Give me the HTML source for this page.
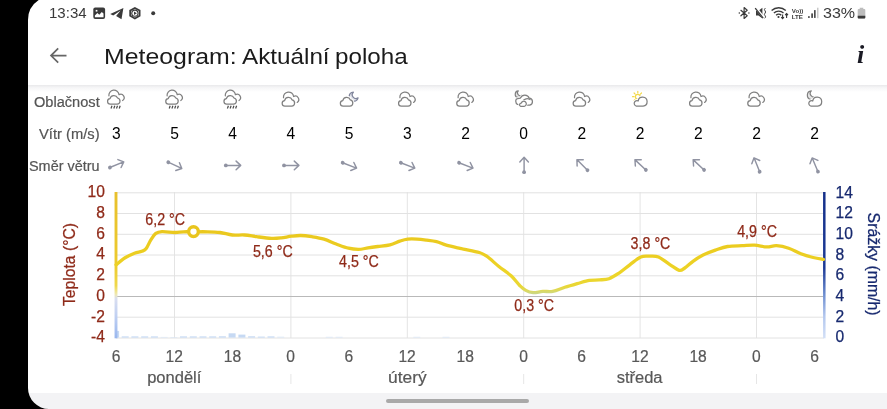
<!DOCTYPE html>
<html lang="cs"><head><meta charset="utf-8"><title>Meteogram: Aktuální poloha</title>
<style>
html,body{margin:0;padding:0}
body{width:887px;height:409px;overflow:hidden;background:#000;position:relative;font-family:"Liberation Sans",sans-serif;}
#screen{position:absolute;left:28px;top:0;width:859px;height:409px;background:#fff;overflow:hidden}
#navbar{position:absolute;left:0;top:393px;width:859px;height:16px;background:#f3f3f5}
#pill{position:absolute;left:358px;top:6.1px;width:143px;height:4px;border-radius:2px;background:#a9a9a9}
.t{position:absolute;white-space:nowrap;line-height:1;transform-origin:0 0}
#shadow{position:absolute;left:0;top:85px;width:859px;height:7px;background:linear-gradient(#e9e9eb,#f6f6f7 40%,#fff)}
svg{position:absolute;left:0;top:0;overflow:visible}
.tt{top:46.1px;font-size:22.6px;color:#1b1b1b}
.lab{color:#555;font-size:14px;-webkit-text-stroke:0.2px #555}
.wv{color:#000;font-size:15.6px;text-align:center;width:30px}
.tl{fill:#8f2a19;stroke:#8f2a19;stroke-width:0.25px;font-size:15.6px;font-family:"Liberation Sans",sans-serif}
.xl{fill:#585858;stroke:#585858;stroke-width:0.2px;font-size:15.6px;font-family:"Liberation Sans",sans-serif}
</style></head><body>
<div id="screen">
<div id="shadow"></div>
<div id="navbar"><div id="pill"></div></div>
</div>

<div class="t" style="left:49.3px;top:6.3px;font-size:14.2px;color:#3a3a3a;transform:scaleX(1.06)">13:34</div>
<div class="t" style="left:823.2px;top:5.9px;font-size:14.6px;color:#3a3a3a;transform:scaleX(1.10)">33%</div>
<div id="title"><span class="t tt" id="t1" style="left:104.2px;transform:scaleX(1.10)">Meteogram:</span><span class="t tt" id="t2" style="left:241.9px;transform:scaleX(1.073)">Aktuální</span><span class="t tt" id="t3" style="left:334.7px;transform:scaleX(1.071)">poloha</span></div>
<div class="t" id="info" style="left:857px;top:41.8px;font-size:26px;font-family:'Liberation Serif',serif;font-weight:bold;font-style:italic;color:#1a1a24">i</div>
<div class="t lab" id="l1" style="left:33.6px;top:95.1px;transform:scaleX(1.042)">Oblačnost</div>
<div class="t lab" id="l2" style="left:38.9px;top:127px;transform:scaleX(1.052)">Vítr (m/s)</div>
<div class="t lab" id="l3" style="left:28.9px;top:159px;transform:scaleX(1.03)">Směr větru</div>
<div class="t wv" style="left:101.3px;top:126.2px">3</div>
<div class="t wv" style="left:159.5px;top:126.2px">5</div>
<div class="t wv" style="left:217.7px;top:126.2px">4</div>
<div class="t wv" style="left:275.9px;top:126.2px">4</div>
<div class="t wv" style="left:334.1px;top:126.2px">5</div>
<div class="t wv" style="left:392.3px;top:126.2px">3</div>
<div class="t wv" style="left:450.5px;top:126.2px">2</div>
<div class="t wv" style="left:508.7px;top:126.2px">0</div>
<div class="t wv" style="left:566.9px;top:126.2px">2</div>
<div class="t wv" style="left:625.1px;top:126.2px">2</div>
<div class="t wv" style="left:683.3px;top:126.2px">2</div>
<div class="t wv" style="left:741.5px;top:126.2px">2</div>
<div class="t wv" style="left:799.7px;top:126.2px">2</div>
<svg width="887" height="409" viewBox="0 0 887 409">
<defs>
<linearGradient id="gT" gradientUnits="userSpaceOnUse" x1="0" y1="192" x2="0" y2="338">
<stop offset="0" stop-color="#e9c11c"/><stop offset="0.27" stop-color="#eac81e"/><stop offset="0.45" stop-color="#eccf22"/><stop offset="0.57" stop-color="#edd528"/><stop offset="0.645" stop-color="#e9d736"/><stop offset="0.675" stop-color="#dcd95e"/><stop offset="0.70" stop-color="#c8d88c"/><stop offset="0.72" stop-color="#b8d4b8"/><stop offset="0.75" stop-color="#b4d2e8"/><stop offset="1" stop-color="#9cc4ee"/></linearGradient>
<linearGradient id="gA" gradientUnits="userSpaceOnUse" x1="0" y1="192" x2="0" y2="338">
<stop offset="0" stop-color="#e8c02c"/><stop offset="0.5" stop-color="#ecca2e"/><stop offset="0.64" stop-color="#efd84a"/><stop offset="0.70" stop-color="#eee8b0"/><stop offset="0.73" stop-color="#d9def0"/><stop offset="0.85" stop-color="#c0d0f2"/><stop offset="1" stop-color="#98b6ee"/></linearGradient>
<linearGradient id="gP" gradientUnits="userSpaceOnUse" x1="0" y1="192" x2="0" y2="338">
<stop offset="0" stop-color="#15308a"/><stop offset="0.52" stop-color="#1d3a96"/><stop offset="0.7" stop-color="#6d8dd0"/><stop offset="0.85" stop-color="#b3c7ee"/><stop offset="1" stop-color="#d3e0f7"/></linearGradient>
<g id="cl" fill="#fff" stroke="#7d7d7d" stroke-width="1.15" stroke-linejoin="round" stroke-linecap="round">
<path d="M-5.3,5 a2.9,2.9 0 0 1 -0.4,-5.75 a4.3,4.3 0 0 1 8.2,-1.2 a3.5,3.5 0 0 1 2.7,6.95 z"/></g>
<g id="bcl" fill="#fff" stroke="#7d7d7d" stroke-width="1.15" stroke-linejoin="round" stroke-linecap="round">
<path d="M-5.3,5 a2.9,2.9 0 0 1 -0.4,-5.75 a4.3,4.3 0 0 1 8.2,-1.2 a3.5,3.5 0 0 1 2.7,6.95 z"/></g>
<g id="arrow" fill="none" stroke="#9093a2" stroke-width="1.45" stroke-linecap="round" stroke-linejoin="round">
<path d="M-7.4,0H7.4M3,-4.3L7.6,0L3,4.3"/><circle cx="-7.3" cy="0" r="1.9" fill="#9093a2" stroke="none"/></g>
</defs>
<line x1="174.5" y1="192" x2="174.5" y2="338" stroke="#e4e4e4" stroke-width="1"/>
<line x1="290.9" y1="192" x2="290.9" y2="338" stroke="#e4e4e4" stroke-width="1"/>
<line x1="407.3" y1="192" x2="407.3" y2="338" stroke="#e4e4e4" stroke-width="1"/>
<line x1="523.7" y1="192" x2="523.7" y2="338" stroke="#e4e4e4" stroke-width="1"/>
<line x1="640.1" y1="192" x2="640.1" y2="338" stroke="#e4e4e4" stroke-width="1"/>
<line x1="756.5" y1="192" x2="756.5" y2="338" stroke="#e4e4e4" stroke-width="1"/>
<line x1="116" y1="338.0" x2="824" y2="338.0" stroke="#e2e2e2" stroke-width="1"/>
<line x1="116" y1="317.2" x2="824" y2="317.2" stroke="#e2e2e2" stroke-width="1"/>
<line x1="116" y1="296.5" x2="824" y2="296.5" stroke="#b9b9b9" stroke-width="1"/>
<line x1="116" y1="275.8" x2="824" y2="275.8" stroke="#e2e2e2" stroke-width="1"/>
<line x1="116" y1="255.0" x2="824" y2="255.0" stroke="#e2e2e2" stroke-width="1"/>
<line x1="116" y1="234.3" x2="824" y2="234.3" stroke="#e2e2e2" stroke-width="1"/>
<line x1="116" y1="213.5" x2="824" y2="213.5" stroke="#e2e2e2" stroke-width="1"/>
<line x1="116" y1="192.8" x2="824" y2="192.8" stroke="#e2e2e2" stroke-width="1"/>
<rect x="115.8" y="330.9" width="3.3" height="6.7" fill="#c6d9f3"/>
<rect x="121.7" y="336.4" width="7" height="1.2" fill="#c6d9f3"/>
<rect x="131.4" y="336.4" width="7" height="1.2" fill="#c6d9f3"/>
<rect x="141.2" y="336.4" width="7" height="1.2" fill="#c6d9f3"/>
<rect x="150.9" y="336.4" width="7" height="1.2" fill="#c6d9f3"/>
<rect x="160.6" y="336.9" width="7" height="0.7" fill="#dbe6f6"/>
<rect x="170.3" y="337.0" width="7" height="0.6" fill="#dbe6f6"/>
<rect x="180.0" y="336.4" width="7" height="1.2" fill="#c6d9f3"/>
<rect x="189.8" y="336.4" width="7" height="1.2" fill="#c6d9f3"/>
<rect x="199.5" y="336.4" width="7" height="1.2" fill="#c6d9f3"/>
<rect x="209.2" y="336.4" width="7" height="1.2" fill="#c6d9f3"/>
<rect x="218.9" y="336.3" width="7" height="1.3" fill="#c6d9f3"/>
<rect x="228.6" y="333.3" width="7" height="4.3" fill="#c6d9f3"/>
<rect x="238.4" y="334.6" width="7" height="3.0" fill="#c6d9f3"/>
<rect x="248.1" y="336.3" width="7" height="1.3" fill="#c6d9f3"/>
<rect x="257.8" y="336.6" width="7" height="1.0" fill="#c6d9f3"/>
<rect x="267.5" y="336.4" width="7" height="1.2" fill="#c6d9f3"/>
<rect x="277.2" y="336.7" width="7" height="0.9" fill="#dbe6f6"/>
<rect x="325.8" y="336.8" width="7" height="0.8" fill="#dbe6f6"/>
<rect x="335.6" y="336.8" width="7" height="0.8" fill="#dbe6f6"/>
<rect x="413.3" y="336.8" width="7" height="0.8" fill="#dbe6f6"/>
<rect x="442.5" y="336.8" width="7" height="0.8" fill="#dbe6f6"/>
<line x1="116" y1="192" x2="116" y2="338.3" stroke="url(#gA)" stroke-width="2.9"/>
<line x1="824.3" y1="192" x2="824.3" y2="338.3" stroke="url(#gP)" stroke-width="2.5"/>
<path d="M116.1,264.8C117.5,263.7 121.6,259.9 124.7,258.0C127.8,256.1 131.7,254.3 134.5,253.2C137.3,252.1 139.9,252.1 141.8,251.3C143.8,250.5 144.7,250.6 146.2,248.6C147.7,246.6 149.4,242.1 151.0,239.6C152.6,237.1 154.0,234.7 155.8,233.4C157.6,232.1 158.8,231.8 162.0,231.6C165.2,231.4 171.2,232.5 174.8,232.5C178.4,232.5 180.3,231.9 183.4,231.8C186.5,231.7 189.1,231.8 193.2,231.8C197.3,231.8 203.3,231.7 207.8,231.8C212.3,231.9 215.9,232.0 220.0,232.5C224.1,233.0 228.2,234.6 232.3,235.0C236.4,235.4 240.4,234.7 244.5,235.0C248.6,235.3 252.2,236.1 256.7,236.7C261.2,237.3 267.3,238.2 271.4,238.4C275.5,238.6 277.8,238.3 281.2,237.9C284.6,237.5 288.2,236.6 291.5,236.2C294.8,235.8 297.4,235.4 300.8,235.5C304.2,235.6 307.9,236.1 311.8,236.7C315.7,237.3 319.9,237.9 324.0,239.1C328.1,240.3 332.1,242.5 336.2,244.0C340.3,245.5 344.8,247.3 348.5,248.2C352.2,249.1 355.1,249.4 358.3,249.4C361.6,249.4 364.8,248.4 368.0,247.9C371.2,247.4 374.1,247.0 377.8,246.5C381.5,246.0 386.3,245.7 390.0,244.8C393.7,243.9 396.9,242.1 399.8,241.1C402.8,240.1 404.8,239.4 407.7,239.1C410.6,238.8 413.8,238.9 417.0,239.1C420.2,239.3 423.4,239.7 426.7,240.1C429.9,240.5 433.2,240.8 436.5,241.6C439.8,242.4 442.4,244.1 446.3,245.2C450.2,246.3 456.9,247.7 460.0,248.4C463.1,249.1 461.5,248.6 464.7,249.3C467.9,250.0 475.6,251.3 479.3,252.5C483.0,253.7 483.4,253.9 486.7,256.2C490.0,258.5 494.8,263.2 498.9,266.5C503.0,269.8 507.6,272.6 511.1,275.8C514.6,279.0 517.2,283.1 519.7,285.5C522.2,287.9 523.5,289.2 525.8,290.4C528.0,291.6 530.4,292.4 533.2,292.6C536.1,292.8 539.6,291.6 542.9,291.4C546.1,291.2 549.0,292.1 552.7,291.4C556.4,290.7 560.8,288.6 564.9,287.3C569.0,286.0 573.1,284.8 577.2,283.6C581.3,282.5 585.7,281.0 589.4,280.4C593.1,279.8 595.9,280.2 599.2,279.9C602.5,279.6 605.8,279.8 609.0,278.7C612.2,277.6 615.2,275.6 618.7,273.3C622.2,271.0 626.1,267.5 629.8,264.8C633.5,262.1 637.5,258.4 640.8,257.0C644.0,255.6 646.3,256.2 649.3,256.2C652.2,256.2 655.1,255.7 658.5,257.0C661.9,258.4 666.0,262.1 669.5,264.3C673.0,266.5 676.7,269.7 679.2,270.3C681.8,270.9 682.4,269.5 684.8,268.0C687.1,266.5 690.2,263.3 693.3,261.1C696.3,258.9 699.4,256.8 703.1,255.0C706.8,253.2 711.3,251.5 715.4,250.1C719.5,248.7 723.1,247.2 727.6,246.5C732.1,245.8 737.7,245.9 742.2,245.7C746.7,245.5 750.4,245.0 754.5,245.2C758.6,245.4 763.0,246.8 766.7,246.9C770.4,247.0 772.8,245.5 776.5,245.7C780.2,245.9 784.6,246.8 788.7,248.2C792.8,249.5 796.8,252.2 800.9,253.8C805.0,255.4 809.5,256.6 813.2,257.5C817.0,258.4 821.7,259.1 823.4,259.4" fill="none" stroke="url(#gT)" stroke-width="3.3" stroke-linecap="round" stroke-linejoin="round"/>
<circle cx="193.5" cy="231.6" r="4.85" fill="#fff" stroke="#e9c51d" stroke-width="3.4"/>
<text class="tl" x="104.9" y="342.4" text-anchor="end">-4</text>
<text class="tl" x="104.9" y="321.6" text-anchor="end">-2</text>
<text class="tl" x="104.9" y="300.9" text-anchor="end">0</text>
<text class="tl" x="104.9" y="280.2" text-anchor="end">2</text>
<text class="tl" x="104.9" y="259.4" text-anchor="end">4</text>
<text class="tl" x="104.9" y="238.7" text-anchor="end">6</text>
<text class="tl" x="104.9" y="217.9" text-anchor="end">8</text>
<text class="tl" x="104.9" y="197.2" text-anchor="end">10</text>
<text x="835.6" y="342.4" font-size="15.6" font-family="Liberation Sans, sans-serif" fill="#17296f" stroke="#17296f" stroke-width="0.25">0</text>
<text x="835.6" y="321.7" font-size="15.6" font-family="Liberation Sans, sans-serif" fill="#17296f" stroke="#17296f" stroke-width="0.25">2</text>
<text x="835.6" y="301.0" font-size="15.6" font-family="Liberation Sans, sans-serif" fill="#17296f" stroke="#17296f" stroke-width="0.25">4</text>
<text x="835.6" y="280.2" font-size="15.6" font-family="Liberation Sans, sans-serif" fill="#17296f" stroke="#17296f" stroke-width="0.25">6</text>
<text x="835.6" y="259.6" font-size="15.6" font-family="Liberation Sans, sans-serif" fill="#17296f" stroke="#17296f" stroke-width="0.25">8</text>
<text x="835.6" y="238.9" font-size="15.6" font-family="Liberation Sans, sans-serif" fill="#17296f" stroke="#17296f" stroke-width="0.25">10</text>
<text x="835.6" y="218.2" font-size="15.6" font-family="Liberation Sans, sans-serif" fill="#17296f" stroke="#17296f" stroke-width="0.25">12</text>
<text x="835.6" y="197.5" font-size="15.6" font-family="Liberation Sans, sans-serif" fill="#17296f" stroke="#17296f" stroke-width="0.25">14</text>
<text class="xl" x="116.1" y="361.7" text-anchor="middle">6</text>
<text class="xl" x="174.3" y="361.7" text-anchor="middle">12</text>
<text class="xl" x="232.5" y="361.7" text-anchor="middle">18</text>
<text class="xl" x="290.7" y="361.7" text-anchor="middle">0</text>
<text class="xl" x="348.9" y="361.7" text-anchor="middle">6</text>
<text class="xl" x="407.1" y="361.7" text-anchor="middle">12</text>
<text class="xl" x="465.3" y="361.7" text-anchor="middle">18</text>
<text class="xl" x="523.5" y="361.7" text-anchor="middle">0</text>
<text class="xl" x="581.7" y="361.7" text-anchor="middle">6</text>
<text class="xl" x="639.9" y="361.7" text-anchor="middle">12</text>
<text class="xl" x="698.1" y="361.7" text-anchor="middle">18</text>
<text class="xl" x="756.3" y="361.7" text-anchor="middle">0</text>
<text class="xl" x="814.5" y="361.7" text-anchor="middle">6</text>
<text class="xl" x="147.2" y="383" style="font-size:16px" textLength="54.2" lengthAdjust="spacingAndGlyphs">pondělí</text>
<text class="xl" x="388.0" y="383" style="font-size:16px" textLength="38.6" lengthAdjust="spacingAndGlyphs">úterý</text>
<text class="xl" x="616.7" y="383" style="font-size:16px" textLength="45.8" lengthAdjust="spacingAndGlyphs">středa</text>
<line x1="290.9" y1="374" x2="290.9" y2="384" stroke="#e6e6e6" stroke-width="1"/>
<line x1="523.7" y1="374" x2="523.7" y2="384" stroke="#e6e6e6" stroke-width="1"/>
<line x1="756.5" y1="374" x2="756.5" y2="384" stroke="#e6e6e6" stroke-width="1"/>
<text class="tl" x="145.3" y="224.9" textLength="39.8" lengthAdjust="spacingAndGlyphs">6,2 °C</text>
<text class="tl" x="252.9" y="256.6" textLength="39.8" lengthAdjust="spacingAndGlyphs">5,6 °C</text>
<text class="tl" x="339.0" y="267.2" textLength="39.8" lengthAdjust="spacingAndGlyphs">4,5 °C</text>
<text class="tl" x="514.3" y="310.9" textLength="39.8" lengthAdjust="spacingAndGlyphs">0,3 °C</text>
<text class="tl" x="630.6" y="248.6" textLength="39.8" lengthAdjust="spacingAndGlyphs">3,8 °C</text>
<text class="tl" x="737.2" y="237.1" textLength="39.8" lengthAdjust="spacingAndGlyphs">4,9 °C</text>
<text transform="translate(75,306) rotate(-90)" font-size="15.8" font-family="Liberation Sans, sans-serif" fill="#8f2a19" stroke="#8f2a19" stroke-width="0.25" textLength="83" lengthAdjust="spacingAndGlyphs">Teplota (°C)</text>
<text transform="translate(868,212.6) rotate(90)" font-size="15.8" font-family="Liberation Sans, sans-serif" fill="#17296f" stroke="#17296f" stroke-width="0.25" textLength="103" lengthAdjust="spacingAndGlyphs">Srážky (mm/h)</text>
<use href="#arrow" transform="translate(116.7,164.7) rotate(-22)"/>
<use href="#arrow" transform="translate(174.9,165.3) rotate(25)"/>
<use href="#arrow" transform="translate(233.1,165.4) rotate(0)"/>
<use href="#arrow" transform="translate(291.3,165.4) rotate(0)"/>
<use href="#arrow" transform="translate(349.5,165.4) rotate(21)"/>
<use href="#arrow" transform="translate(407.7,165.4) rotate(21)"/>
<use href="#arrow" transform="translate(465.9,165.4) rotate(21)"/>
<use href="#arrow" transform="translate(524.1,164.9) rotate(-90)"/>
<use href="#arrow" transform="translate(582.3,165) rotate(-135)"/>
<use href="#arrow" transform="translate(640.5,164.9) rotate(-137)"/>
<use href="#arrow" transform="translate(698.7,164.9) rotate(-137)"/>
<use href="#arrow" transform="translate(756.9,164.9) rotate(-112)"/>
<use href="#arrow" transform="translate(815.1,164.9) rotate(-113)"/>
<path transform="translate(116.3,-1.9)" d="M-7.4,97.7A5.04,5.04 0 0 1 2.7,96.5A3.46,3.46 0 0 1 6.3,102.4" fill="none" stroke="#808080" stroke-width="1.25" stroke-linecap="round" stroke-linejoin="round" /><path transform="translate(116.3,-1.9)" d="M-6.05,106.1A2.76,2.76 0 0 1 -6.3,100.6A4,4 0 0 1 1.3,99.9A3.15,3.15 0 0 1 0.8,106.1Z" fill="none" stroke="#808080" stroke-width="1.25" stroke-linecap="round" stroke-linejoin="round" /><line x1="112.0" y1="105.7" x2="111.0" y2="108.5" stroke="#4a4a4a" stroke-width="1.2"/><line x1="114.8" y1="105.7" x2="113.8" y2="108.5" stroke="#4a4a4a" stroke-width="1.2"/><line x1="117.5" y1="105.7" x2="116.5" y2="108.5" stroke="#4a4a4a" stroke-width="1.2"/><line x1="120.2" y1="105.7" x2="119.2" y2="108.5" stroke="#4a4a4a" stroke-width="1.2"/>
<path transform="translate(174.5,-1.9)" d="M-7.4,97.7A5.04,5.04 0 0 1 2.7,96.5A3.46,3.46 0 0 1 6.3,102.4" fill="none" stroke="#808080" stroke-width="1.25" stroke-linecap="round" stroke-linejoin="round" /><path transform="translate(174.5,-1.9)" d="M-6.05,106.1A2.76,2.76 0 0 1 -6.3,100.6A4,4 0 0 1 1.3,99.9A3.15,3.15 0 0 1 0.8,106.1Z" fill="none" stroke="#808080" stroke-width="1.25" stroke-linecap="round" stroke-linejoin="round" /><line x1="170.2" y1="105.7" x2="169.2" y2="108.5" stroke="#4a4a4a" stroke-width="1.2"/><line x1="172.9" y1="105.7" x2="171.9" y2="108.5" stroke="#4a4a4a" stroke-width="1.2"/><line x1="175.7" y1="105.7" x2="174.7" y2="108.5" stroke="#4a4a4a" stroke-width="1.2"/><line x1="178.4" y1="105.7" x2="177.4" y2="108.5" stroke="#4a4a4a" stroke-width="1.2"/>
<path transform="translate(232.7,-1.9)" d="M-7.4,97.7A5.04,5.04 0 0 1 2.7,96.5A3.46,3.46 0 0 1 6.3,102.4" fill="none" stroke="#808080" stroke-width="1.25" stroke-linecap="round" stroke-linejoin="round" /><path transform="translate(232.7,-1.9)" d="M-6.05,106.1A2.76,2.76 0 0 1 -6.3,100.6A4,4 0 0 1 1.3,99.9A3.15,3.15 0 0 1 0.8,106.1Z" fill="none" stroke="#808080" stroke-width="1.25" stroke-linecap="round" stroke-linejoin="round" /><line x1="228.4" y1="105.7" x2="227.4" y2="108.5" stroke="#4a4a4a" stroke-width="1.2"/><line x1="231.1" y1="105.7" x2="230.1" y2="108.5" stroke="#4a4a4a" stroke-width="1.2"/><line x1="233.9" y1="105.7" x2="232.9" y2="108.5" stroke="#4a4a4a" stroke-width="1.2"/><line x1="236.6" y1="105.7" x2="235.6" y2="108.5" stroke="#4a4a4a" stroke-width="1.2"/>
<path transform="translate(290.9,0)" d="M-7.4,97.7A5.04,5.04 0 0 1 2.7,96.5A3.46,3.46 0 0 1 6.3,102.4" fill="none" stroke="#808080" stroke-width="1.25" stroke-linecap="round" stroke-linejoin="round" /><path transform="translate(290.9,0)" d="M-6.05,106.1A2.76,2.76 0 0 1 -6.3,100.6A4,4 0 0 1 1.3,99.9A3.15,3.15 0 0 1 0.8,106.1Z" fill="none" stroke="#808080" stroke-width="1.25" stroke-linecap="round" stroke-linejoin="round" />
<path transform="translate(349.1,0)" d="M8.94,97.89A4.5,4.5 0 1 1 4.25,92.21A3.7,3.7 0 0 0 8.94,97.89Z" fill="#e4e6ec" stroke="#80859c" stroke-width="1.3" stroke-linecap="round" stroke-linejoin="round" /><path transform="translate(349.1,0)" d="M-6.05,106.1A2.76,2.76 0 0 1 -6.3,100.6A4,4 0 0 1 1.3,99.9A3.15,3.15 0 0 1 0.8,106.1Z" fill="#fff" stroke="#fff" stroke-width="3.2" stroke-linecap="round" stroke-linejoin="round" /><path transform="translate(349.1,0)" d="M-6.05,106.1A2.76,2.76 0 0 1 -6.3,100.6A4,4 0 0 1 1.3,99.9A3.15,3.15 0 0 1 0.8,106.1Z" fill="none" stroke="#808080" stroke-width="1.25" stroke-linecap="round" stroke-linejoin="round" />
<path transform="translate(407.3,0)" d="M-7.4,97.7A5.04,5.04 0 0 1 2.7,96.5A3.46,3.46 0 0 1 6.3,102.4" fill="none" stroke="#808080" stroke-width="1.25" stroke-linecap="round" stroke-linejoin="round" /><path transform="translate(407.3,0)" d="M-6.05,106.1A2.76,2.76 0 0 1 -6.3,100.6A4,4 0 0 1 1.3,99.9A3.15,3.15 0 0 1 0.8,106.1Z" fill="none" stroke="#808080" stroke-width="1.25" stroke-linecap="round" stroke-linejoin="round" />
<path transform="translate(465.5,0)" d="M-7.4,97.7A5.04,5.04 0 0 1 2.7,96.5A3.46,3.46 0 0 1 6.3,102.4" fill="none" stroke="#808080" stroke-width="1.25" stroke-linecap="round" stroke-linejoin="round" /><path transform="translate(465.5,0)" d="M-6.05,106.1A2.76,2.76 0 0 1 -6.3,100.6A4,4 0 0 1 1.3,99.9A3.15,3.15 0 0 1 0.8,106.1Z" fill="none" stroke="#808080" stroke-width="1.25" stroke-linecap="round" stroke-linejoin="round" />
<path transform="translate(523.7,0)" d="M-1.83,95.22A3.4,3.4 0 1 1 -5.37,90.91A2.8,2.8 0 0 0 -1.83,95.22Z" fill="#e6e6e6" stroke="#808080" stroke-width="1.15" stroke-linecap="round" stroke-linejoin="round" /><path transform="translate(523.7,0)" d="M-6.2,104.3Q-7.9,103.6 -7.9,101.6V100.6Q-7.9,98.9 -6.2,98.7L-3.3,98.1A4.8,4.8 0 0 1 5.6,98.2A3.5,3.5 0 0 1 6,105.1H-2Z" fill="#fff" stroke="#fff" stroke-width="3" stroke-linecap="round" stroke-linejoin="round" /><path transform="translate(523.7,0)" d="M-6.2,104.3Q-7.9,103.6 -7.9,101.6V100.6Q-7.9,98.9 -6.2,98.7L-3.3,98.1A4.8,4.8 0 0 1 5.6,98.2A3.5,3.5 0 0 1 6,105.1H-2Z" fill="none" stroke="#808080" stroke-width="1.25" stroke-linecap="round" stroke-linejoin="round" /><path transform="translate(523.7,0)" d="M-0.2,100.3Q3,97.3 6.3,99.6" fill="none" stroke="#808080" stroke-width="1.25" stroke-linecap="round" stroke-linejoin="round" /><path transform="translate(523.7,0)" d="M-3.2,106.25A1.6,1.6 0 0 1 -2.4,103.2A2.55,2.55 0 1 1 0.8,106.25Z" fill="#fff" stroke="#fff" stroke-width="2.6" stroke-linecap="round" stroke-linejoin="round" /><path transform="translate(523.7,0)" d="M-3.2,106.25A1.6,1.6 0 0 1 -2.4,103.2A2.55,2.55 0 1 1 0.8,106.25Z" fill="none" stroke="#808080" stroke-width="1.25" stroke-linecap="round" stroke-linejoin="round" />
<path transform="translate(581.9,0)" d="M-7.4,97.7A5.04,5.04 0 0 1 2.7,96.5A3.46,3.46 0 0 1 6.3,102.4" fill="none" stroke="#808080" stroke-width="1.25" stroke-linecap="round" stroke-linejoin="round" /><path transform="translate(581.9,0)" d="M-6.05,106.1A2.76,2.76 0 0 1 -6.3,100.6A4,4 0 0 1 1.3,99.9A3.15,3.15 0 0 1 0.8,106.1Z" fill="none" stroke="#808080" stroke-width="1.25" stroke-linecap="round" stroke-linejoin="round" />
<line x1="634.1" y1="96.7" x2="632.5" y2="96.7" stroke="#f3d94a" stroke-width="1.2" stroke-linecap="round"/><line x1="635.2" y1="94.1" x2="634.1" y2="93.0" stroke="#f3d94a" stroke-width="1.2" stroke-linecap="round"/><line x1="637.8" y1="93.0" x2="637.8" y2="91.4" stroke="#f3d94a" stroke-width="1.2" stroke-linecap="round"/><line x1="640.4" y1="94.1" x2="641.5" y2="93.0" stroke="#f3d94a" stroke-width="1.2" stroke-linecap="round"/><line x1="635.2" y1="99.3" x2="634.1" y2="100.4" stroke="#f3d94a" stroke-width="1.2" stroke-linecap="round"/><circle cx="637.8" cy="96.7" r="2.4" fill="#fff" stroke="#f3d94a" stroke-width="1.2"/><path transform="translate(640.1,0)" d="M-3.7,106.1A2.72,2.72 0 1 1 -1.95,101A4.5,4.5 0 1 1 3,106.1Z" fill="#fff" stroke="#fff" stroke-width="3.2" stroke-linecap="round" stroke-linejoin="round" /><path transform="translate(640.1,0)" d="M-3.7,106.1A2.72,2.72 0 1 1 -1.95,101A4.5,4.5 0 1 1 3,106.1Z" fill="none" stroke="#808080" stroke-width="1.25" stroke-linecap="round" stroke-linejoin="round" />
<path transform="translate(698.3,0)" d="M-7.4,97.7A5.04,5.04 0 0 1 2.7,96.5A3.46,3.46 0 0 1 6.3,102.4" fill="none" stroke="#808080" stroke-width="1.25" stroke-linecap="round" stroke-linejoin="round" /><path transform="translate(698.3,0)" d="M-6.05,106.1A2.76,2.76 0 0 1 -6.3,100.6A4,4 0 0 1 1.3,99.9A3.15,3.15 0 0 1 0.8,106.1Z" fill="none" stroke="#808080" stroke-width="1.25" stroke-linecap="round" stroke-linejoin="round" />
<path transform="translate(756.5,0)" d="M-7.4,97.7A5.04,5.04 0 0 1 2.7,96.5A3.46,3.46 0 0 1 6.3,102.4" fill="none" stroke="#808080" stroke-width="1.25" stroke-linecap="round" stroke-linejoin="round" /><path transform="translate(756.5,0)" d="M-6.05,106.1A2.76,2.76 0 0 1 -6.3,100.6A4,4 0 0 1 1.3,99.9A3.15,3.15 0 0 1 0.8,106.1Z" fill="none" stroke="#808080" stroke-width="1.25" stroke-linecap="round" stroke-linejoin="round" />
<path transform="translate(814.7,0)" d="M1.18,96.41A4.35,4.35 0 1 1 -3.36,90.86A3.6,3.6 0 0 0 1.18,96.41Z" fill="#e6e6e6" stroke="#808080" stroke-width="1.2" stroke-linecap="round" stroke-linejoin="round" /><path transform="translate(814.7,0)" d="M-3.7,106.1A2.72,2.72 0 1 1 -1.95,101A4.5,4.5 0 1 1 3,106.1Z" fill="#fff" stroke="#fff" stroke-width="3.2" stroke-linecap="round" stroke-linejoin="round" /><path transform="translate(814.7,0)" d="M-3.7,106.1A2.72,2.72 0 1 1 -1.95,101A4.5,4.5 0 1 1 3,106.1Z" fill="none" stroke="#808080" stroke-width="1.25" stroke-linecap="round" stroke-linejoin="round" />
<path d="M66.5,55.55H51M58.2,48.4L51,55.55L58.2,62.7" fill="none" stroke="#666" stroke-width="1.7" stroke-linecap="butt" stroke-linejoin="miter"/>
<g fill="#3a3a3a">
<rect x="93.3" y="7.5" width="11.8" height="11.4" rx="1.9"/>
<path d="M94.9,17.3v-1.9l2.5,-2.3l1.9,1.7l2.5,-2.7l1.7,1.5v3.7z" fill="#fff"/><rect x="95.7" y="9.9" width="1.7" height="1.7" fill="#fff"/>
<path d="M110.2,14L123.4,8L121.5,19.3L116.1,16L120.6,10.6L113.2,15.6z"/>
<path d="M134.9,6.9l5.6,3.15v6.3l-5.6,3.15l-5.6,-3.15v-6.3z"/><path d="M134.9,8.9l3.8,2.15v4.3l-3.8,2.15l-3.8,-2.15v-4.3z" fill="#fff"/><circle cx="134.9" cy="13.2" r="3.6"/><circle cx="134.9" cy="13.2" r="2.5" fill="#fff"/><path d="M134,11.4l2.9,1.8l-2.9,1.8z"/><circle cx="153.2" cy="13.2" r="2"/>
</g>
<g fill="none" stroke="#3a3a3a" stroke-width="1.15" stroke-linecap="round" stroke-linejoin="round">
<path d="M740.9,10.3l6.3,5.5l-3.1,2.7v-11l3.1,2.8l-6.3,5.5"/><path d="M739.3,13.1h0.01M748.9,13.1h0.01" stroke-width="1.5"/>
<path d="M765,8.4q-1.3,1.2 0,2.4q1.3,1.2 0,2.4q-1.3,1.2 0,2.4q1.3,1.2 0,2.4" stroke-width="1"/>
</g>
<g fill="#3a3a3a"><path d="M756,10.8h2.5l3.9,-3v10.6l-3.9,-3h-2.5z"/><path d="M755.6,7.4l8.4,10.6" stroke="#fff" stroke-width="2.4" fill="none"/><path d="M755.2,8.2l8,10" stroke="#3a3a3a" stroke-width="1.3" fill="none"/></g>
<g fill="none" stroke="#3a3a3a" stroke-width="1.35" stroke-linecap="butt"><path d="M771.6,10.6a10.2,10.2 0 0 1 14.2,0"/><path d="M773.9,13a6.9,6.9 0 0 1 9.600,0"/><path d="M776.1,15.300a3.700,3.700 0 0 1 5.200,0"/></g><circle cx="778.5" cy="17" r="1.05" fill="#3a3a3a"/>
<path d="M782.600,14.400v4M781.200,17.200l1.400,1.500l1.400,-1.500M786.600,18v-4.200M785.200,15l1.400,-1.500l1.400,1.500" fill="none" stroke="#3a3a3a" stroke-width="1.1"/>
<text x="791.8" y="12.500" font-size="6.200" font-weight="bold" font-family="Liberation Sans, sans-serif" fill="#3a3a3a" textLength="11.600" lengthAdjust="spacingAndGlyphs">Vo))</text><text x="791.8" y="18.600" font-size="6.200" font-weight="bold" font-family="Liberation Sans, sans-serif" fill="#3a3a3a" textLength="11.200" lengthAdjust="spacingAndGlyphs">LTE</text>
<g fill="#3a3a3a"><rect x="808.1" y="16.200" width="1.600" height="1.700"/><rect x="811.3" y="13.400" width="1.600" height="4.500"/><rect x="814.1" y="10.100" width="1.500" height="7.800"/><rect x="817.4" y="7.700" width="0.900" height="10.500" fill="#a5a5a5"/></g>
<path d="M859.700,7.700h3.600v1.300h1a1,1 0 0 1 1,1v7.600a1,1 0 0 1 -1,1h-5.600a1,1 0 0 1 -1,-1v-7.600a1,1 0 0 1 1,-1h1z" fill="#bdbdbd"/><path d="M857.700,15.700h7.600v1.900a1,1 0 0 1 -1,1h-5.600a1,1 0 0 1 -1,-1z" fill="#3a3a3a"/>
<path d="M0,0H38.700A24,24 0 0 0 28,20V388A21,21 0 0 0 49,409H0z" fill="#000"/>
</svg>
</body></html>
